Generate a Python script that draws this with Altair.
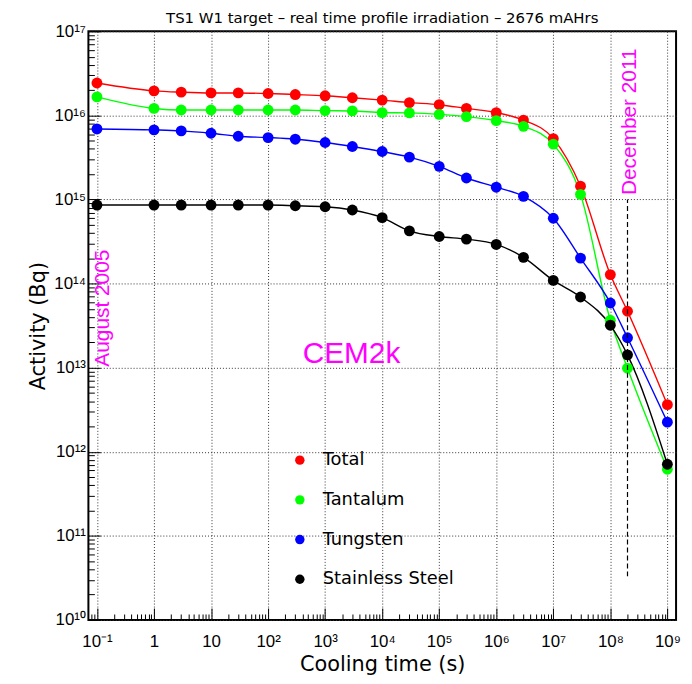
import altair as alt
import pandas as pd

# ---------------- data ----------------
times = [0.1, 1, 3, 10, 30, 100, 300, 1000, 3000, 1e4, 3e4, 1e5, 3e5,
         1e6, 3e6, 1e7, 3e7, 1e8, 2e8, 1e9]

total = [2.43e16, 1.96e16, 1.89e16, 1.85e16, 1.85e16, 1.82e16, 1.77e16,
         1.71e16, 1.62e16, 1.52e16, 1.42e16, 1.34e16, 1.21e16, 1.08e16,
         8.8e15, 5.3e15, 1.44e15, 1.28e14, 4.69e13, 3.63e12]
tantalum = [1.66e16, 1.21e16, 1.16e16, 1.16e16, 1.16e16, 1.16e16, 1.16e16,
            1.14e16, 1.13e16, 1.08e16, 1.07e16, 1.03e16, 9.66e15, 8.66e15,
            7.41e15, 4.55e15, 1.15e15, 3.66e13, 9.86e12, 6.2e11]
tungsten = [6.9e15, 6.72e15, 6.54e15, 6.13e15, 5.65e15, 5.45e15, 5.21e15,
            4.76e15, 4.27e15, 3.72e15, 3.19e15, 2.48e15, 1.80e15, 1.40e15,
            1.09e15, 5.98e14, 2.01e14, 5.88e13, 2.27e13, 2.25e12]
steel = [8.59e14, 8.59e14, 8.59e14, 8.59e14, 8.59e14, 8.59e14, 8.43e14,
         8.2e14, 7.5e14, 6.08e14, 4.24e14, 3.63e14, 3.38e14, 2.92e14,
         2.05e14, 1.09e14, 6.92e13, 3.2e13, 1.42e13, 7.1e11]

series_names = ["Total", "Tantalum", "Tungsten", "Stainless Steel"]
series_colors = ["#ff0000", "#00ff00", "#0000ff", "#000000"]

x_major = [0.1, 1.0, 10.0, 100.0, 1e3, 1e4, 1e5, 1e6, 1e7, 1e8, 1e9]
x_major_labels = ["10⁻¹", "1", "10", "10²", "10³", "10⁴", "10⁵", "10⁶",
                  "10⁷", "10⁸", "10⁹"]
y_major = [1e10, 1e11, 1e12, 1e13, 1e14, 1e15, 1e16, 1e17]
y_major_labels = ["10¹⁰", "10¹¹", "10¹²", "10¹³", "10¹⁴", "10¹⁵", "10¹⁶",
                  "10¹⁷"]

marker_time = [2e8]          # "December 2011" marker line
marker_low = [3.3e10]
marker_high = [1e15]

annot_text = ["August 2005", "December 2011", "CEM2k"]
annot_time = [0.126, 2.24e8, 2.9e3]
annot_value = [5.1e13, 8.4e15, 1.46e13]

title_text = "TS1 W1 target – real time profile irradiation – 2676 mAHrs"

# ---------------- build tables ----------------
rows = []
for name, vals in zip(series_names, [total, tantalum, tungsten, steel]):
    for t, v in zip(times, vals):
        rows.append({"series": name, "time": t, "activity": v})
df = pd.DataFrame(rows)

x_minor = [m * 10.0 ** k for k in range(-2, 10) for m in range(2, 10)
           if 0.0708 <= m * 10.0 ** k <= 1.42e9]
y_minor = [m * 10.0 ** k for k in range(10, 17) for m in range(2, 10)]


def label_expr(vals, labels):
    e = ""
    for v, l in zip(vals, labels):
        e += f"datum.value == {v!r} ? '{l}' : "
    return e + "''"


x_scale = alt.Scale(type="log", domain=[0.0708, 1.42e9], nice=False)
y_scale = alt.Scale(type="log", domain=[1e10, 1e17], nice=False)
color_scale = alt.Scale(domain=series_names, range=series_colors)

LABEL_FONT = "Liberation Sans"
TEXT_FONT = "DejaVu Sans"

x_axis_main = alt.Axis(
    orient="bottom", values=x_major, labelExpr=label_expr(x_major, x_major_labels),
    grid=True, gridDash=[1, 2], gridColor="#333333", gridWidth=1,
    tickSize=0, domain=False, labelFont=LABEL_FONT, labelFontSize=17,
    labelColor="black", labelPadding=14, labelFlush=False, labelOverlap=False,
    title="Cooling time (s)", titleFont=TEXT_FONT, titleFontSize=21,
    titleFontWeight="normal", titleColor="black", titleY=45,
    titleBaseline="middle")
y_axis_main = alt.Axis(
    orient="left", values=y_major, labelExpr=label_expr(y_major, y_major_labels),
    grid=True, gridDash=[1, 2], gridColor="#333333", gridWidth=1,
    tickSize=0, domain=False, labelFont=LABEL_FONT, labelFontSize=17,
    labelColor="black", labelPadding=3, labelFlush=False, labelOverlap=False,
    title="Activity (Bq)", titleFont=TEXT_FONT, titleFontSize=21,
    titleFontWeight="normal", titleColor="black", titleX=-50,
    titleAngle=270, titleBaseline="middle")


def tick_axis(orient, vals, size):
    return alt.Axis(orient=orient, values=vals, labels=False, grid=False,
                    domain=False, tickSize=size, offset=-size,
                    tickColor="black", tickWidth=1, title="")


lines = alt.Chart(df).mark_line(strokeWidth=1.4, interpolate="monotone").encode(
    x=alt.X("time:Q", scale=x_scale, axis=x_axis_main),
    y=alt.Y("activity:Q", scale=y_scale, axis=y_axis_main),
    color=alt.Color("series:N", scale=color_scale, legend=None),
)

points = alt.Chart(df).mark_circle(size=120, opacity=1).encode(
    x=alt.X("time:Q", scale=x_scale, axis=tick_axis("bottom", x_minor, 6)),
    y=alt.Y("activity:Q", scale=y_scale, axis=tick_axis("left", y_minor, 6)),
    color=alt.Color("series:N", scale=color_scale, legend=alt.Legend(
        orient="none", legendX=204, legendY=423, title=None,
        labelFont=TEXT_FONT, labelFontSize=18, labelColor="black",
        symbolType="circle", symbolSize=90, symbolStrokeWidth=0,
        rowPadding=22, labelOffset=14, padding=0)),
)

rule_df = pd.DataFrame({"time": marker_time, "lo": marker_low, "hi": marker_high})
rule = alt.Chart(rule_df).mark_rule(
    strokeDash=[5, 3], color="black", strokeWidth=1.2).encode(
    x=alt.X("time:Q", scale=x_scale, axis=tick_axis("bottom", x_major, 12)),
    y=alt.Y("lo:Q", scale=y_scale, axis=tick_axis("left", y_major, 12)),
    y2="hi:Q",
)

annot_angle = [270, 270, 0]
annot_size = [21, 21, 30]
texts = []
for txt, t, v, ang, sz in zip(annot_text, annot_time, annot_value,
                              annot_angle, annot_size):
    tdf = pd.DataFrame({"label": [txt], "time": [t], "activity": [v]})
    texts.append(alt.Chart(tdf).mark_text(
        color="#ff00ff", font=LABEL_FONT, fontSize=sz, angle=ang,
        align="center", baseline="middle").encode(
        x=alt.X("time:Q", scale=x_scale, axis=None),
        y=alt.Y("activity:Q", scale=y_scale, axis=None),
        text="label:N"))

chart = alt.layer(lines, points, rule, *texts).resolve_axis(
    x="independent", y="independent"
).resolve_legend(color="independent").properties(
    width=592, height=593,
    title=alt.TitleParams(title_text, font=TEXT_FONT, fontSize=15,
                          fontWeight="normal", color="black", offset=-4,
                          anchor="middle"),
    padding={"left": 81, "top": 21, "right": 8, "bottom": 56},
    autosize=alt.AutoSizeParams(type="none"),
).configure_view(stroke="black", strokeWidth=2)

chart.save("out.html", embed_options={"renderer": "svg", "actions": False})
